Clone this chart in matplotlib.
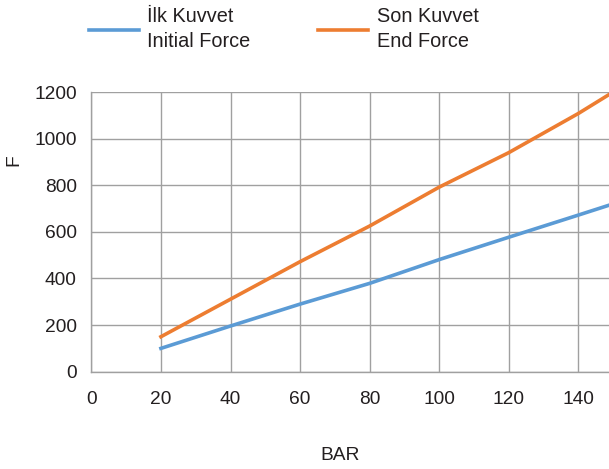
import matplotlib.pyplot as plt

plt.rcParams['font.family'] = ['Liberation Sans', 'DejaVu Sans']

# Readings from the chart
bar = [20, 40, 60, 80, 100, 120, 140, 150]
initial_force = [100, 196, 290, 379, 481, 577, 672, 720]
end_force = [150, 311, 472, 625, 792, 940, 1108, 1200]

text_col = '#231f20'
grid_col = '#a0a0a0'
fs = 13.8

fig = plt.figure(figsize=(6.09, 4.69), dpi=100)
ax = fig.add_axes([0.15, 0.2075, 0.85, 0.5963])

ax.plot(bar, initial_force, color='#5b9bd5', linewidth=2.6, label='İlk Kuvvet\nInitial Force')
ax.plot(bar, end_force, color='#ed7d31', linewidth=2.6, label='Son Kuvvet\nEnd Force')

ax.set_xlim(0, 148.8)
ax.set_ylim(0, 1200)
ax.set_xticks(range(0, 141, 20))
ax.set_yticks(range(0, 1201, 200))
ax.grid(True, color=grid_col, linewidth=1)
ax.set_axisbelow(True)
for s in ['top', 'right']:
    ax.spines[s].set_visible(False)
for s in ['left', 'bottom']:
    ax.spines[s].set_color(grid_col)
    ax.spines[s].set_linewidth(1)
ax.tick_params(length=0, labelsize=fs, labelcolor=text_col)
ax.tick_params(axis='x', pad=14)
ax.tick_params(axis='y', pad=10.5)

fig.text(14 / 609, 1 - 160 / 469, 'F', rotation=90, ha='center', va='center',
         fontsize=fs, color=text_col)
fig.text(340 / 609, 1 - 455 / 469, 'BAR', ha='center', va='center',
         fontsize=fs, color=text_col)

leg = fig.legend(loc='upper left', bbox_to_anchor=(89 / 609, 1 - 7 / 469), ncol=2,
                 frameon=False, fontsize=14.3, handlelength=2.5, handletextpad=0.44,
                 columnspacing=3.4, borderpad=0, borderaxespad=0, labelspacing=0)
for t in leg.get_texts():
    t.set_color(text_col)
    t.set_linespacing(1.4)

fig.savefig('out.png', dpi=100)
